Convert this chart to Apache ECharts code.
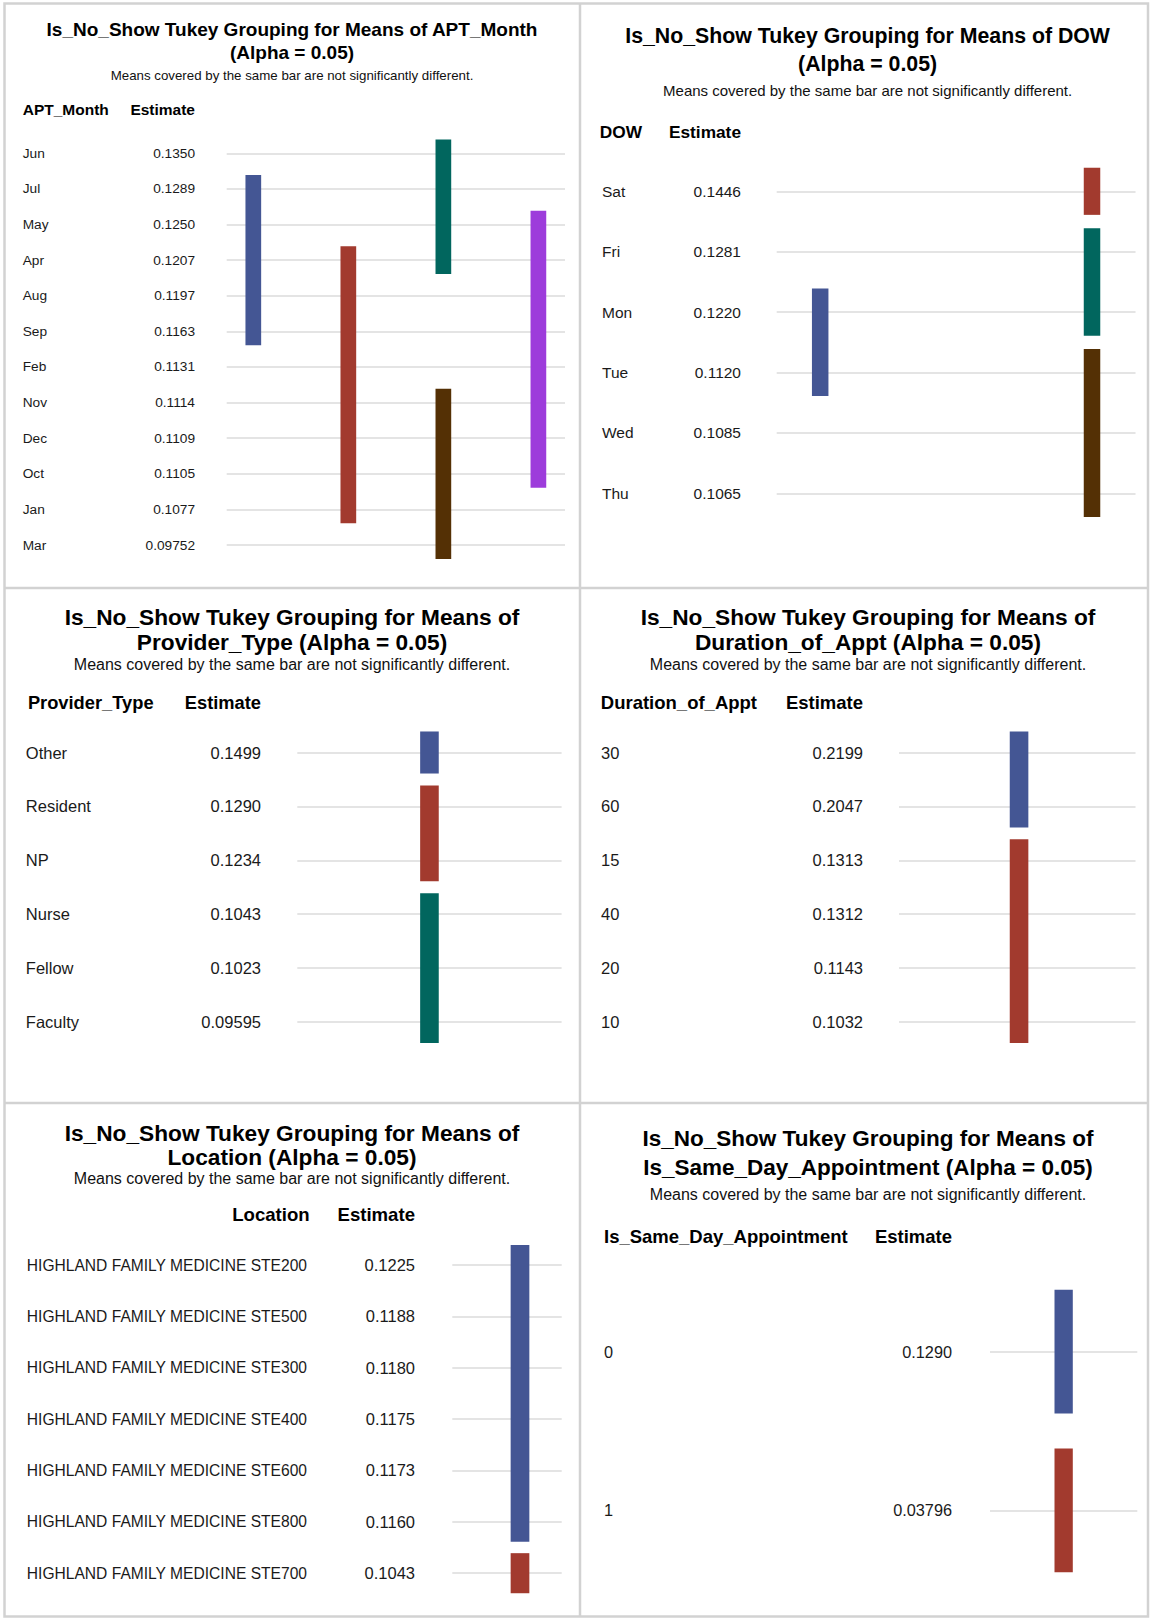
<!DOCTYPE html>
<html>
<head>
<meta charset="utf-8">
<script src="https://cdn.jsdelivr.net/npm/echarts@6/dist/echarts.min.js"></script>
<style>
html, body { margin: 0; padding: 0; background: #fff; }
#mychart { width: 1151px; height: 1619px; }
</style>
</head>
<body>
<div id="mychart"></div>
<script>
"use strict";
// APT_Month
const monthCats = ['Jun', 'Jul', 'May', 'Apr', 'Aug', 'Sep', 'Feb', 'Nov', 'Dec', 'Oct', 'Jan', 'Mar'];
const monthEst = ['0.1350', '0.1289', '0.1250', '0.1207', '0.1197', '0.1163', '0.1131', '0.1114', '0.1109', '0.1105', '0.1077', '0.09752'];
const monthGroups = [[1, 'Jul', 'Sep'], [2, 'Apr', 'Jan'], [3, 'Jun', 'Apr'], [3, 'Nov', 'Mar'], [4, 'May', 'Oct']];
// DOW
const dowCats = ['Sat', 'Fri', 'Mon', 'Tue', 'Wed', 'Thu'];
const dowEst = ['0.1446', '0.1281', '0.1220', '0.1120', '0.1085', '0.1065'];
const dowGroups = [[1, 'Mon', 'Tue'], [2, 'Sat', 'Sat'], [2, 'Fri', 'Mon'], [2, 'Tue', 'Thu']];
// Provider_Type
const provCats = ['Other', 'Resident', 'NP', 'Nurse', 'Fellow', 'Faculty'];
const provEst = ['0.1499', '0.1290', '0.1234', '0.1043', '0.1023', '0.09595'];
const provGroups = [[1, 'Other', 'Other'], [1, 'Resident', 'NP'], [1, 'Nurse', 'Faculty']];
// Duration_of_Appt
const durCats = ['30', '60', '15', '40', '20', '10'];
const durEst = ['0.2199', '0.2047', '0.1313', '0.1312', '0.1143', '0.1032'];
const durGroups = [[1, '30', '60'], [1, '15', '10']];
// Location
const locCats = ['HIGHLAND FAMILY MEDICINE STE200', 'HIGHLAND FAMILY MEDICINE STE500', 'HIGHLAND FAMILY MEDICINE STE300',
    'HIGHLAND FAMILY MEDICINE STE400', 'HIGHLAND FAMILY MEDICINE STE600', 'HIGHLAND FAMILY MEDICINE STE800',
    'HIGHLAND FAMILY MEDICINE STE700'];
const locEst = ['0.1225', '0.1188', '0.1180', '0.1175', '0.1173', '0.1160', '0.1043'];
const locGroups = [[1, 'HIGHLAND FAMILY MEDICINE STE200', 'HIGHLAND FAMILY MEDICINE STE800'],
    [1, 'HIGHLAND FAMILY MEDICINE STE700', 'HIGHLAND FAMILY MEDICINE STE700']];
// Is_Same_Day_Appointment
const sameCats = ['0', '1'];
const sameEst = ['0.1290', '0.03796'];
const sameGroups = [[1, '0', '0'], [1, '1', '1']];

const groupColors = ['#445694', '#A23A2E', '#01665E', '#543005', '#9D3CDB'];
const subText = 'Means covered by the same bar are not significantly different.';
const FONT = '"Liberation Sans", Arial, sans-serif';

const panels = [
    {
        cats: monthCats, est: monthEst, groups: monthGroups, catHeader: 'APT_Month',
        title: 'Is_No_Show Tukey Grouping for Means of APT_Month\n(Alpha = 0.05)',
        lay: { cx: 292, t1: 30, t2: 52.6, sub: 75.4, titleSize: 19, subSize: 13.3, head: 109.4, headSize: 15.5,
            catHeadX: 22.7, catHeadAlign: 'left', labelSize: 13.7, estSize: 13.7, labelX: 22.7, estX: 195,
            gridL: 226.7, gridR: 565, rowTop: 153.3, rowBot: 545, xMin: 0.72, xMax: 4.28, barW: 15.7 }
    },
    {
        cats: dowCats, est: dowEst, groups: dowGroups, catHeader: 'DOW',
        title: 'Is_No_Show Tukey Grouping for Means of DOW\n(Alpha = 0.05)',
        lay: { cx: 867.6, t1: 36, t2: 64, sub: 90.8, titleSize: 21.3, subSize: 15, head: 132, headSize: 17.3,
            catHeadX: 599.8, catHeadAlign: 'left', labelSize: 15.5, estSize: 15.5, labelX: 602, estX: 741,
            gridL: 776.7, gridR: 1135.5, rowTop: 191.3, rowBot: 493.4, xMin: 0.84, xMax: 2.16, barW: 16.5 }
    },
    {
        cats: provCats, est: provEst, groups: provGroups, catHeader: 'Provider_Type',
        title: 'Is_No_Show Tukey Grouping for Means of\nProvider_Type (Alpha = 0.05)',
        lay: { cx: 292, t1: 617.3, t2: 642, sub: 664.8, titleSize: 22.7, subSize: 16, head: 702, headSize: 18.3,
            catHeadX: 27.9, catHeadAlign: 'left', labelSize: 16.5, estSize: 16.5, labelX: 25.8, estX: 261,
            gridL: 297.3, gridR: 561.6, rowTop: 752.5, rowBot: 1022, xMin: 0, xMax: 2, barW: 18.6 }
    },
    {
        cats: durCats, est: durEst, groups: durGroups, catHeader: 'Duration_of_Appt',
        title: 'Is_No_Show Tukey Grouping for Means of\nDuration_of_Appt (Alpha = 0.05)',
        lay: { cx: 868, t1: 617.3, t2: 642, sub: 664.8, titleSize: 22.7, subSize: 16, head: 702, headSize: 18.5,
            catHeadX: 600.8, catHeadAlign: 'left', labelSize: 16.5, estSize: 16.5, labelX: 601, estX: 863,
            gridL: 899, gridR: 1135.5, rowTop: 752.5, rowBot: 1022, xMin: 0, xMax: 1.97, barW: 18.6 }
    },
    {
        cats: locCats, est: locEst, groups: locGroups, catHeader: 'Location',
        title: 'Is_No_Show Tukey Grouping for Means of\nLocation (Alpha = 0.05)',
        lay: { cx: 292, t1: 1132.5, t2: 1157.2, sub: 1179, titleSize: 22.7, subSize: 16, head: 1214, headSize: 18.6,
            catHeadX: 309.7, catHeadAlign: 'right', labelSize: 15.6, estSize: 16.5, labelX: 26.8, estX: 415,
            gridL: 452.3, gridR: 561.7, rowTop: 1265, rowBot: 1573.2, xMin: 0, xMax: 1.616, barW: 18.7 }
    },
    {
        cats: sameCats, est: sameEst, groups: sameGroups, catHeader: 'Is_Same_Day_Appointment',
        title: 'Is_No_Show Tukey Grouping for Means of\nIs_Same_Day_Appointment (Alpha = 0.05)',
        lay: { cx: 868, t1: 1138.6, t2: 1167.5, sub: 1194.4, titleSize: 22.5, subSize: 16, head: 1236.7, headSize: 18.5,
            catHeadX: 604, catHeadAlign: 'left', labelSize: 16.3, estSize: 16.3, labelX: 604, estX: 952,
            gridL: 990, gridR: 1137.3, rowTop: 1351.7, rowBot: 1510.3, xMin: 0, xMax: 2, barW: 18.3 }
    }
];

function renderGroup(params, api) {
    const lay = panels[params.seriesIndex].lay;
    const col = api.value(0);
    const top = api.coord([col, api.value(1)]);
    const bottom = api.coord([col, api.value(2)]);
    const step = api.coord([col, 1])[1] - api.coord([col, 0])[1];
    const pad = step * 0.39;
    return {
        type: 'rect',
        shape: { x: top[0] - lay.barW / 2, y: top[1] - pad, width: lay.barW, height: bottom[1] - top[1] + 2 * pad },
        style: { fill: api.visual('color') }
    };
}

const option = {
    animation: false,
    backgroundColor: '#fff',
    title: [],
    grid: [],
    xAxis: [],
    yAxis: [],
    series: [],
    graphic: []
};

panels.forEach(function (p, i) {
    const lay = p.lay;
    const lh = lay.t2 - lay.t1;
    const subLh = lay.subSize + 2;
    option.title.push({
        text: p.title,
        subtext: subText,
        left: lay.cx,
        top: lay.t1 - lh / 2,
        padding: 0,
        textAlign: 'center',
        textVerticalAlign: 'top',
        itemGap: lay.sub - subLh / 2 - lay.t1 - 1.5 * lh,
        textStyle: { fontFamily: FONT, fontSize: lay.titleSize, fontWeight: 'bold', lineHeight: lh, color: '#000' },
        subtextStyle: { fontFamily: FONT, fontSize: lay.subSize, lineHeight: subLh, color: '#111' }
    });
    option.grid.push({
        left: lay.gridL,
        top: lay.rowTop,
        width: lay.gridR - lay.gridL,
        height: lay.rowBot - lay.rowTop
    });
    option.xAxis.push({
        type: 'value',
        gridIndex: i,
        min: lay.xMin,
        max: lay.xMax,
        show: false,
        splitLine: { show: false }
    });
    option.yAxis.push({
        type: 'category',
        gridIndex: i,
        position: 'left',
        inverse: true,
        boundaryGap: false,
        data: p.cats,
        axisLine: { show: false },
        axisTick: { show: false },
        axisLabel: {
            interval: 0, align: 'left', margin: lay.gridL - lay.labelX,
            fontFamily: FONT, fontSize: lay.labelSize, color: '#1a1a1a'
        },
        splitLine: { show: true, interval: 0, lineStyle: { color: '#e4e4e4', width: 2 } }
    });
    option.yAxis.push({
        type: 'category',
        gridIndex: i,
        position: 'left',
        offset: 0,
        inverse: true,
        boundaryGap: false,
        data: p.est,
        axisLine: { show: false },
        axisTick: { show: false },
        axisLabel: {
            interval: 0, align: 'right', margin: lay.gridL - lay.estX,
            fontFamily: FONT, fontSize: lay.estSize, color: '#1a1a1a'
        },
        splitLine: { show: false }
    });
    option.series.push({
        type: 'custom',
        xAxisIndex: i,
        yAxisIndex: 2 * i,
        renderItem: renderGroup,
        data: p.groups.map(function (g, k) {
            return {
                value: [g[0], p.cats.indexOf(g[1]), p.cats.indexOf(g[2])],
                itemStyle: { color: groupColors[k] }
            };
        })
    });
    // column headers
    option.graphic.push({
        type: 'text',
        x: lay.catHeadX,
        y: lay.head,
        style: {
            text: p.catHeader, fill: '#000',
            font: 'bold ' + lay.headSize + 'px ' + FONT,
            align: lay.catHeadAlign, textAlign: lay.catHeadAlign,
            verticalAlign: 'middle', textVerticalAlign: 'middle'
        }
    });
    option.graphic.push({
        type: 'text',
        x: lay.estX,
        y: lay.head,
        style: {
            text: 'Estimate', fill: '#000',
            font: 'bold ' + lay.headSize + 'px ' + FONT,
            align: 'right', textAlign: 'right',
            verticalAlign: 'middle', textVerticalAlign: 'middle'
        }
    });
});

// panel frame and dividers
const frameStyle = { stroke: '#d2d2d2', lineWidth: 2.5, fill: null };
option.graphic.push(
    { type: 'rect', shape: { x: 4.5, y: 3.5, width: 1143.5, height: 1613 }, style: frameStyle },
    { type: 'line', shape: { x1: 580, y1: 3.5, x2: 580, y2: 1617 }, style: frameStyle },
    { type: 'line', shape: { x1: 4.5, y1: 588, x2: 1148, y2: 588 }, style: frameStyle },
    { type: 'line', shape: { x1: 4.5, y1: 1103, x2: 1148, y2: 1103 }, style: frameStyle }
);

const container = document.getElementById('mychart');
const myChart = echarts.init(container, null, { renderer: 'svg' });
myChart.setOption(option);
</script>
</body>
</html>
